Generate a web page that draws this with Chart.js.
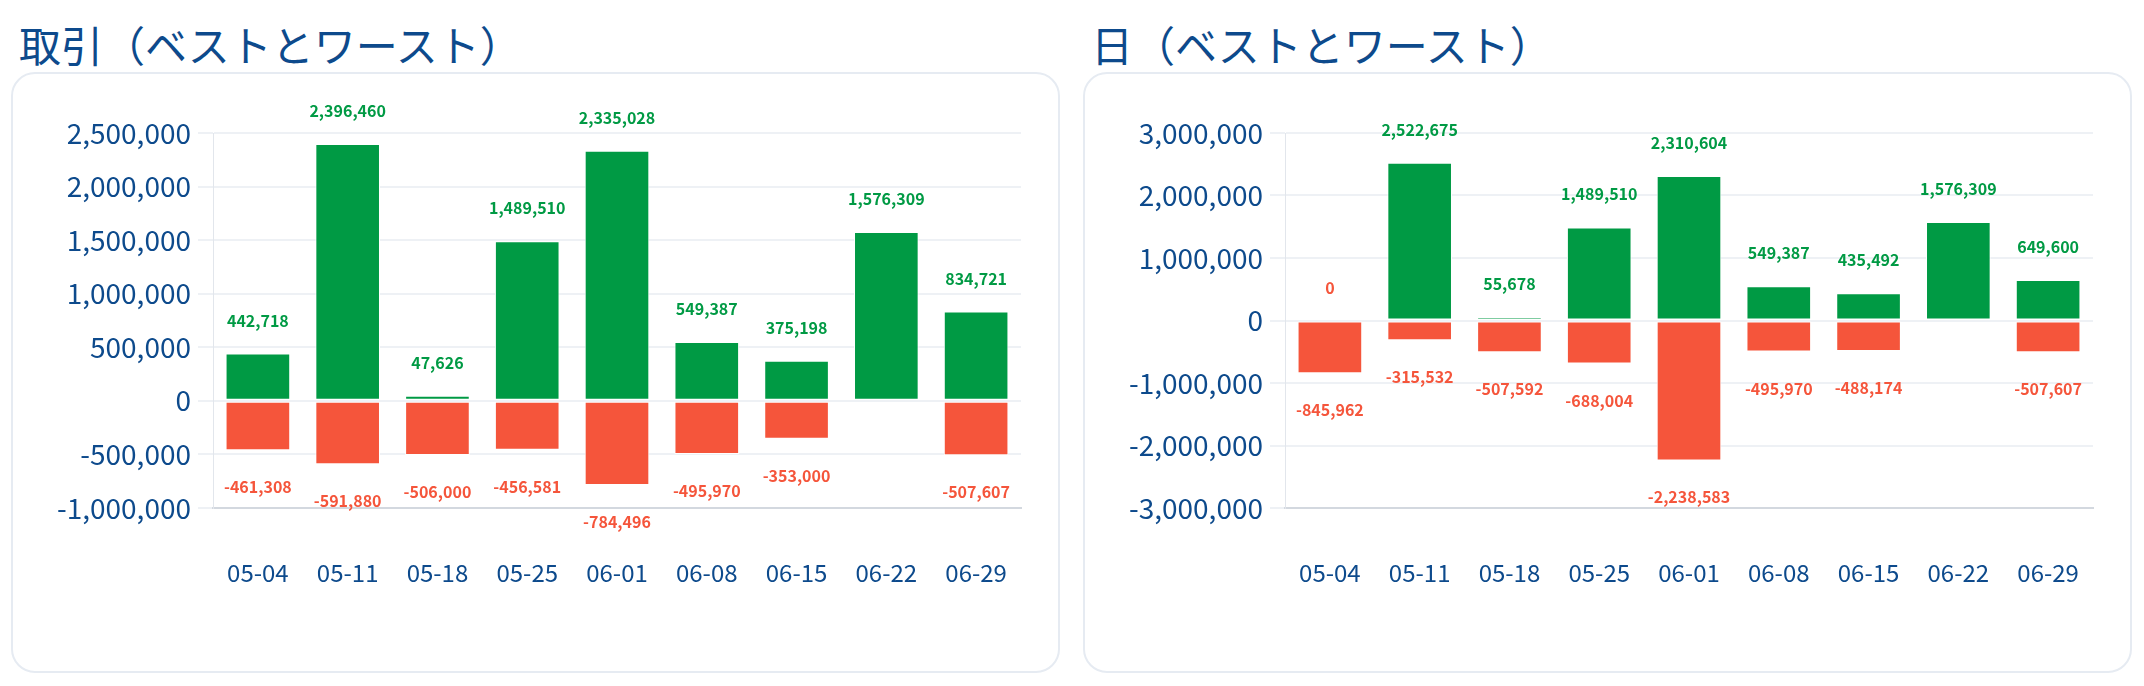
<!DOCTYPE html>
<html>
<head>
<meta charset="utf-8">
<script src="https://cdn.jsdelivr.net/npm/chart.js@4/dist/chart.umd.min.js"></script>
<style>
  html, body { margin: 0; padding: 0; background: #fff; }
  body { width: 2144px; height: 686px; position: relative; overflow: hidden; }
  .title {
    position: absolute; top: 22px; margin: 0;
    font-family: "Noto Sans CJK JP", "Noto Sans", sans-serif;
    font-size: 42px; line-height: 43px; font-weight: 400; color: #0d4a8c;
    white-space: nowrap;
  }
  .panel { position: absolute; top: 72px; width: 1049px; height: 601px; }
  .card {
    position: absolute; inset: 0; box-sizing: border-box;
    border: 2px solid #e6ebf2; border-radius: 24px; background: #fff;
  }
  .panel canvas { position: absolute; left: 0; top: 0; }
</style>
</head>
<body>
<h2 class="title" style="left:19px">取引（ベストとワースト）</h2>
<h2 class="title" style="left:1091px">日（ベストとワースト）</h2>
<div class="panel" style="left:11px"><div class="card"></div><canvas id="tradeChart"></canvas></div>
<div class="panel" style="left:1083px"><div class="card"></div><canvas id="dayChart"></canvas></div>

<script>
// Week labels shared by both charts
const weeks = ['05-04', '05-11', '05-18', '05-25', '06-01', '06-08', '06-15', '06-22', '06-29'];

// 取引 (per trade)
const tradeBest = [442718, 2396460, 47626, 1489510, 2335028, 549387, 375198, 1576309, 834721];
const tradeWorst = [-461308, -591880, -506000, -456581, -784496, -495970, -353000, null, -507607];
const tradeYRange = [-1000000, 2500000, 500000]; // min, max, step

// 日 (per day)
const dayBest = [0, 2522675, 55678, 1489510, 2310604, 549387, 435492, 1576309, 649600];
const dayWorst = [-845962, -315532, -507592, -688004, -2238583, -495970, -488174, null, -507607];
const dayYRange = [-3000000, 3000000, 1000000];

const GREEN = '#009a44';
const RED = '#f5553b';
const BLUE = '#0d4a8c';
const FONT = '"Noto Sans CJK JP", "Noto Sans", sans-serif';

// draws the value above/below each bar
const valueLabels = {
  id: 'valueLabels',
  afterDatasetsDraw(chart) {
    const ctx = chart.ctx;
    ctx.save();
    ctx.font = 'bold 16px ' + FONT;
    ctx.textAlign = 'center';
    ctx.textBaseline = 'middle';
    chart.data.datasets.forEach((ds, i) => {
      const meta = chart.getDatasetMeta(i);
      meta.data.forEach((bar, j) => {
        const v = ds.data[j];
        if (v === null || v === undefined) return;
        ctx.fillStyle = v > 0 ? GREEN : RED;
        const y = i === 0 ? bar.y - 33 : bar.y + 37;
        ctx.fillText(v.toLocaleString('en-US'), bar.x, y);
      });
    });
    ctx.restore();
  }
};

function makeChart(id, best, worst, yRange) {
  const ctx = document.getElementById(id).getContext('2d');
  return new Chart(ctx, {
    type: 'bar',
    data: {
      labels: weeks,
      datasets: [
        { label: 'best', data: best, backgroundColor: GREEN, borderColor: '#ffffff', borderWidth: 1, borderSkipped: false },
        { label: 'worst', data: worst, backgroundColor: RED, borderColor: '#ffffff', borderWidth: 1, borderSkipped: false }
      ]
    },
    options: {
      responsive: true,
      maintainAspectRatio: false,
      animation: false,
      layout: { padding: { left: 12, right: 39, top: 61, bottom: 65 } },
      plugins: { legend: { display: false }, tooltip: { enabled: false } },
      scales: {
        x: {
          stacked: true,
          grid: { display: false, drawTicks: false },
          border: { display: true, color: '#d3d8df', width: 2 },
          ticks: { color: BLUE, padding: 50, font: { family: FONT, size: 24 } },
          afterFit(scale) { scale.height = 100; }
        },
        y: {
          stacked: true,
          min: yRange[0],
          max: yRange[1],
          grid: { color: '#eef1f5', lineWidth: 2, tickLength: 15 },
          border: { display: true, color: '#e2e6ec', width: 1 },
          ticks: {
            stepSize: yRange[2],
            color: BLUE,
            padding: 7,
            font: { family: FONT, size: 28 },
            callback: v => v.toLocaleString('en-US')
          },
          afterFit(scale) { scale.width = 190; }
        }
      }
    },
    plugins: [valueLabels]
  });
}

Promise.all([
  document.fonts.load('28px "Noto Sans CJK JP"'),
  document.fonts.load('bold 16px "Noto Sans CJK JP"')
]).catch(() => {}).then(() => {
  makeChart('tradeChart', tradeBest, tradeWorst, tradeYRange);
  makeChart('dayChart', dayBest, dayWorst, dayYRange);
});
</script>
</body>
</html>
